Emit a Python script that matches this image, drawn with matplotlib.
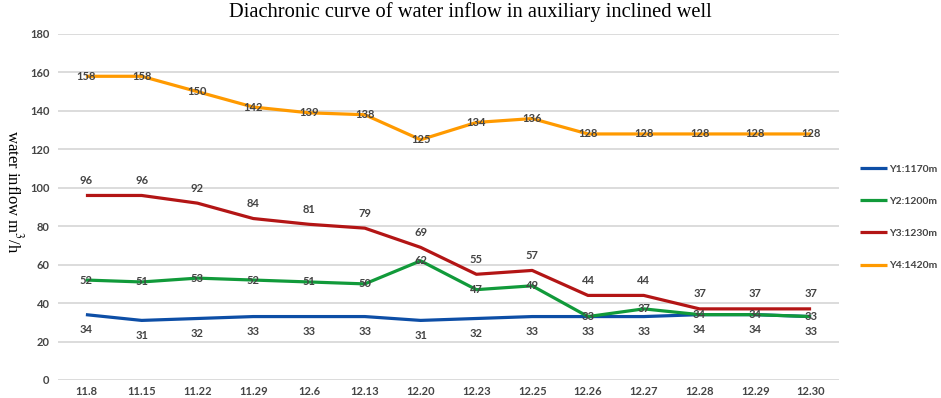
import matplotlib
matplotlib.use("Agg")
import matplotlib.pyplot as plt
import numpy as np

dates = ["11.8", "11.15", "11.22", "11.29", "12.6", "12.13", "12.20", "12.23",
         "12.25", "12.26", "12.27", "12.28", "12.29", "12.30"]
y1 = [34, 31, 32, 33, 33, 33, 31, 32, 33, 33, 33, 34, 34, 33]
y2 = [52, 51, 53, 52, 51, 50, 62, 47, 49, 33, 37, 34, 34, 33]
y3 = [96, 96, 92, 84, 81, 79, 69, 55, 57, 44, 44, 37, 37, 37]
y4 = [158, 158, 150, 142, 139, 138, 125, 134, 136, 128, 128, 128, 128, 128]
series_names = ["Y1:1170m", "Y2:1200m", "Y3:1230m", "Y4:1420m"]
yticks = [0, 20, 40, 60, 80, 100, 120, 140, 160, 180]

colors = ["#0d4ea6", "#119a3a", "#b31515", "#ff9a00"]
label_offsets = [-15, 0, 15, 0]  # pixels

fig = plt.figure(figsize=(9.41, 3.98), dpi=100)
ax = fig.add_axes([58/941, 1-380/398, (839-58)/941, (380-34)/398])

x = np.arange(len(dates))
tickfont = dict(family="Lato", weight="bold", color="#444444", size=8)
for vals, name, c, off in zip([y1, y2, y3, y4], series_names, colors, label_offsets):
    ax.plot(x, vals, color=c, lw=2.3, label=name, zorder=3, solid_capstyle="butt")
    for xi, v in zip(x, vals):
        ax.annotate(str(v), (xi, v), xytext=(0, off * 0.72), textcoords="offset points",
                    ha="center", va="center", zorder=4, **tickfont)

ax.set_xlim(-0.5, len(dates) - 0.5)
ax.set_ylim(0, 180)
ax.set_yticks(yticks)
ax.set_xticks(x)
ax.set_xticklabels(dates)
ax.grid(axis="y", color="#d9d9d9", lw=1.3, zorder=0)
ax.set_axisbelow(True)
for s in ax.spines.values():
    s.set_visible(False)
ax.tick_params(length=0)
for lab in ax.get_xticklabels() + ax.get_yticklabels():
    lab.set_fontfamily("Lato"); lab.set_fontweight("bold"); lab.set_color("#444444"); lab.set_fontsize(8)
ax.tick_params(axis="x", pad=4)
ax.tick_params(axis="y", pad=6)

plt.rcParams["mathtext.fontset"] = "stix"
fig.text(0.5, 1-12/398, "Diachronic curve of water inflow in auxiliary inclined well",
         ha="center", va="center", fontsize=14.8, family="Liberation Serif")
fig.text(14/941, 1-192/398, "water inflow m$^{3}$/h", rotation=270, ha="center", va="center",
         fontsize=12, family="Liberation Serif")

leg = fig.legend(loc="upper left", bbox_to_anchor=(851/941, 1-155/398), frameon=False,
                 prop=dict(family="Lato", weight="bold", size=7.5), labelcolor="#444444",
                 handlelength=2.6, handletextpad=0.15, labelspacing=2.2)
for h in leg.get_lines():
    h.set_linewidth(2.3)

fig.savefig("out.png", dpi=100)
